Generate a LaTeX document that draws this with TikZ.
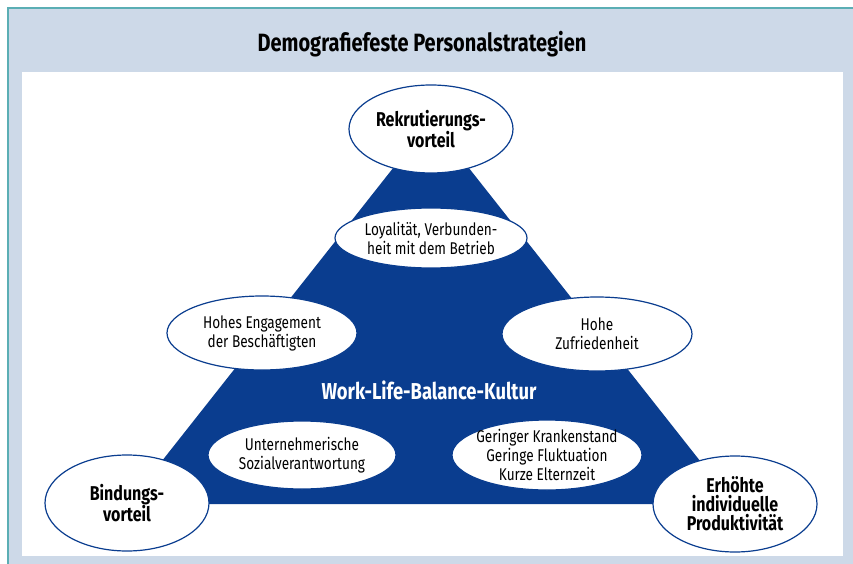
\documentclass[tikz,border=0pt]{standalone}
\usepackage{fontspec}
\setmainfont{Fira Sans}[FakeStretch=0.8]
\usetikzlibrary{shapes.geometric}
\usetikzlibrary{positioning}

\definecolor{wlbblue}{HTML}{0A3D8F}
\definecolor{framebg}{HTML}{CDD9E8}
\definecolor{frameline}{HTML}{5BAEB4}

\begin{document}
\begin{tikzpicture}[x=1pt, y=-1pt,
    oval/.style={ellipse, draw=wlbblue, line width=1.2pt, fill=white,
      inner sep=-3pt, align=center, font=\fontsize{17}{19}\selectfont},
    keyoval/.style={oval, font=\bfseries\fontsize{20}{19}\selectfont}]
  \useasboundingbox (0,0) rectangle (853,564);
  % frame and panel
  \fill[framebg] (8,8) rectangle (853,564);
  \draw[frameline, line width=1.5pt] (8,564) -- (8,8) -- (853,8);
  \fill[white] (22,72) rectangle (843,556);
  \node[font=\bfseries\fontsize{25}{25}\selectfont] (title) at (422,44)
    {Demografiefeste Personalstrategien};
  % triangle
  \coordinate (apex) at (431,120);
  \coordinate (leftcorner) at (128,504);
  \coordinate (rightcorner) at (734,504);
  \fill[wlbblue] (apex) -- (leftcorner) -- (rightcorner) -- cycle;
  \node[text=white, font=\bfseries\fontsize{23}{23}\selectfont] (culture) at (429,390)
    {Work-Life-Balance-Kultur};
  % inner effects
  \node[oval, minimum width=192, minimum height=60] (loyalty) at (431,238)
    {Loyalität, Verbunden-\\heit mit dem Betrieb};
  \node[oval, minimum width=190, minimum height=74] (engagement) at (262,333)
    {Hohes Engagement\\der Beschäftigten};
  \node[oval, minimum width=190, minimum height=74] (satisfaction) at (597,334)
    {Hohe\\Zufriedenheit};
  \node[oval, minimum width=188, minimum height=68] (responsibility) at (302,455)
    {Unternehmerische\\Sozialverantwortung};
  \node[oval, minimum width=190, minimum height=70, inner xsep=-9pt, inner ysep=-6pt]
    (absence) at (547,455)
    {Geringer Krankenstand\\Geringe Fluktuation\\Kurze Elternzeit};
  % corner advantages
  \node[keyoval, minimum width=164, minimum height=88] (recruiting) at (431,129)
    {Rekrutierungs-\\vorteil};
  \node[keyoval, minimum width=164, minimum height=96] (retention) at (127,503)
    {Bindungs-\\vorteil};
  \node[keyoval, minimum width=164, minimum height=96] (productivity) at (735,504)
    {Erhöhte\\individuelle\\Produktivität};
\end{tikzpicture}
\end{document}
